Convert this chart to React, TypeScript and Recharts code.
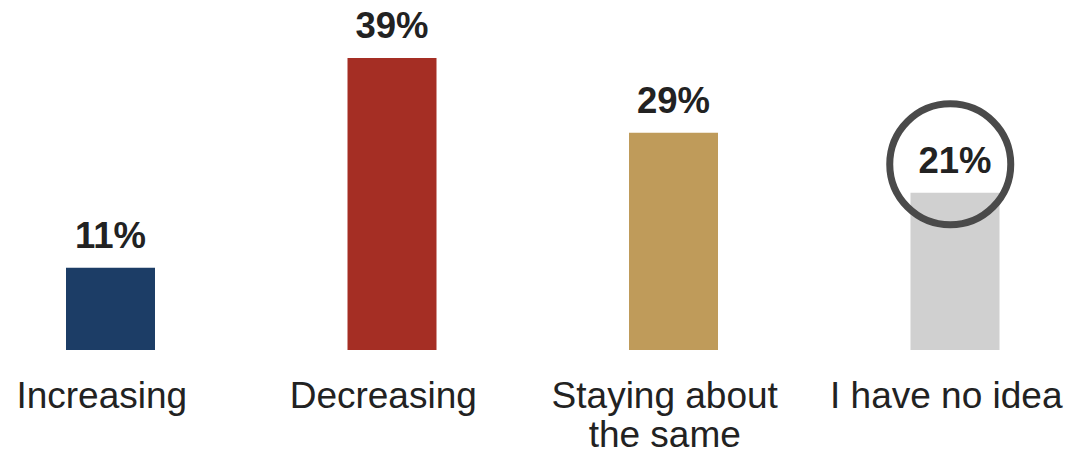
import { BarChart, Bar, XAxis, YAxis, Cell, LabelList, ReferenceDot } from 'recharts'

const categories = ['Increasing', 'Decreasing', 'Staying about the same', 'I have no idea']
const shares = [11, 39, 29, 21]
const barColors = ['#1c3d66', '#a52e24', '#bf9b5a', '#d0d0d0']
const tickLines: Record<string, string[]> = {
  'Increasing': ['Increasing'],
  'Decreasing': ['Decreasing'],
  'Staying about the same': ['Staying about', 'the same'],
  'I have no idea': ['I have no idea'],
}
const highlightCategory = 'I have no idea'
const highlightLevel = 24.8

const data = categories.map((name, i) => ({ name, value: shares[i] }))

const FONT = '"Liberation Sans", Arial, Helvetica, sans-serif'

// y here is the top of the axis band (bar baseline) since tickSize/tickMargin are 0
function CategoryTick(props: any) {
  const { x, y, payload } = props
  const lines = tickLines[payload.value] || [payload.value]
  return (
    <g>
      {lines.map((line, i) => (
        <text
          key={i}
          x={x - 9}
          y={y + 58 + i * 39}
          textAnchor="middle"
          fontFamily={FONT}
          fontSize={37}
          fill="#222"
        >
          {line}
        </text>
      ))}
    </g>
  )
}

function HighlightRing(props: any) {
  const { cx, cy } = props
  return <circle cx={cx - 5} cy={cy} r={60.5} fill="none" stroke="#4a4a4a" strokeWidth={7} />
}

export default function App() {
  return (
    <div style={{ position: 'absolute', left: 0, top: 0, width: 1091, height: 455, overflow: 'hidden', background: '#fff' }}>
      <div style={{ position: 'absolute', left: -30, top: 0 }}>
        <BarChart
          width={1126}
          height={455}
          data={data}
          margin={{ top: 50.5, right: 0, left: 0, bottom: 75 }}
        >
          <XAxis
            dataKey="name"
            axisLine={false}
            tickLine={false}
            tickSize={0}
            tickMargin={0}
            interval={0}
            tick={<CategoryTick />}
            height={30}
          />
          <YAxis hide domain={[0, 40]} />
          <Bar dataKey="value" barSize={89} isAnimationActive={false}>
            {data.map((d, i) => (
              <Cell key={d.name} fill={barColors[i]} />
            ))}
            <LabelList
              dataKey="value"
              position="top"
              offset={20}
              formatter={(v: any) => `${v}%`}
              style={{ fontFamily: FONT, fontSize: 36.5, fontWeight: 700, fill: '#222' }}
            />
          </Bar>
          <ReferenceDot x={highlightCategory} y={highlightLevel} shape={<HighlightRing />} />
        </BarChart>
      </div>
    </div>
  )
}
